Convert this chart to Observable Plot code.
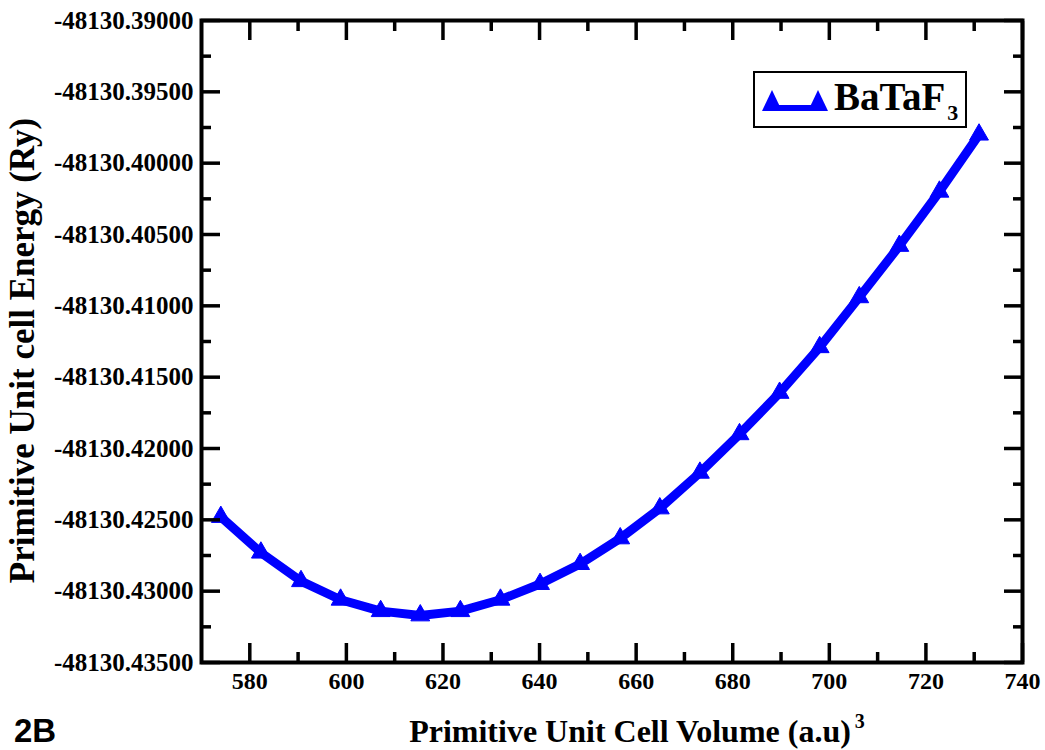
<!DOCTYPE html>
<html>
<head>
<meta charset="utf-8">
<script src="https://cdn.jsdelivr.net/npm/d3@7"></script>
<script src="https://cdn.jsdelivr.net/npm/@observablehq/plot@0.6"></script>
<style>
  html, body { margin: 0; padding: 0; background: #fff; }
  #wrap { position: relative; width: 1045px; height: 750px; overflow: hidden; }
  #wrap svg text { font-family: 'Liberation Serif', 'Times New Roman', serif; font-weight: bold; }
  #legend { position: absolute; left: 753px; top: 71px; width: 210px; height: 53px;
            border: 2px solid #000; background: #fff; box-sizing: content-box; }
  #legend svg { position: absolute; left: 7px; top: 11px; }
  #legend .lbl { position: absolute; left: 79px; top: 3px; font-family: 'Liberation Serif', 'Times New Roman', serif;
                 font-weight: bold; font-size: 39px; line-height: 42px; white-space: nowrap; }
  #legend .lbl sub { font-size: 22px; vertical-align: -10px; margin-left: 2px; }
  #tag { position: absolute; left: 14px; top: 714px; font-family: 'Liberation Sans', Arial, sans-serif;
         font-weight: bold; font-size: 33px; line-height: 33px; }
</style>
</head>
<body>
<div id="wrap"></div>
<script>
// ---- data ----
const volume = [574.0, 582.3, 590.6, 598.8, 607.1, 615.3, 623.6, 631.9, 640.1, 648.4,
                656.7, 664.9, 673.2, 681.4, 689.7, 698.0, 706.2, 714.5, 722.8, 731.0];
const energy = [-48130.4248, -48130.4273, -48130.4293, -48130.4306, -48130.4314,
                -48130.4317, -48130.4314, -48130.4306, -48130.4295, -48130.4281,
                -48130.4263, -48130.4242, -48130.4217, -48130.4190, -48130.4161,
                -48130.4129, -48130.4094, -48130.4058, -48130.4020, -48130.3980];
const seriesName = "BaTaF";
const seriesSub = "3";
const xMajor = [580, 600, 620, 640, 660, 680, 700, 720, 740];
const xMinor = [590, 610, 630, 650, 670, 690, 710, 730];
const yMajor = [-48130.39, -48130.395, -48130.40, -48130.405, -48130.41, -48130.415,
                -48130.42, -48130.425, -48130.43, -48130.435];
const yMinor = [-48130.3925, -48130.3975, -48130.4025, -48130.4075, -48130.4125,
                -48130.4175, -48130.4225, -48130.4275, -48130.4325];
const xLabel = "Primitive Unit Cell Volume (a.u)";
const xLabelSup = "3";
const yLabel = "Primitive Unit cell Energy (Ry)";
const tag = "2B";

const data = volume.map((v, i) => ({v, e: energy[i]}));
const fmtY = d3.formatLocale({decimal: ".", thousands: "", grouping: [3], currency: ["", ""], minus: "-"}).format(".5f");
const blue = "#0000ff";
const serif = "'Liberation Serif', 'Times New Roman', serif";
const tickW = 3.5;
const txt = {fontFamily: serif, fontWeight: "bold"};

const chart = Plot.plot({
  width: 1045,
  height: 750,
  marginLeft: 201,
  marginRight: 23,
  marginTop: 20,
  marginBottom: 88,
  style: {fontFamily: serif, fontWeight: "bold", fontSize: "25px", background: "#fff", color: "#000"},
  x: {domain: [570, 740]},
  y: {domain: [-48130.435, -48130.39]},
  marks: [
    Plot.line(data, {x: "v", y: "e", stroke: blue, strokeWidth: 9}),
    Plot.dot(data, {x: "v", y: "e", symbol: "triangle", fill: blue, stroke: blue, strokeWidth: 1, r: 7}),
    // axes: major + minor, inward ticks, mirrored
    Plot.axisX({anchor: "bottom", ticks: xMajor, tickSize: -19, tickPadding: 28, strokeWidth: tickW,
                tickFormat: d => String(d), fontSize: 24, ...txt, label: null}),
    Plot.axisX({anchor: "bottom", ticks: xMinor, tickSize: -10, strokeWidth: tickW, tickFormat: () => "", label: null}),
    Plot.axisX({anchor: "top", ticks: xMajor, tickSize: -19, strokeWidth: tickW, tickFormat: () => "", label: null}),
    Plot.axisX({anchor: "top", ticks: xMinor, tickSize: -10, strokeWidth: tickW, tickFormat: () => "", label: null}),
    Plot.axisY({anchor: "left", ticks: yMajor, tickSize: -19, tickPadding: 27, strokeWidth: tickW,
                tickFormat: fmtY, fontSize: 25, ...txt, label: null}),
    Plot.axisY({anchor: "left", ticks: yMinor, tickSize: -10, strokeWidth: tickW, tickFormat: () => "", label: null}),
    Plot.axisY({anchor: "right", ticks: yMajor, tickSize: -19, strokeWidth: tickW, tickFormat: () => "", label: null}),
    Plot.axisY({anchor: "right", ticks: yMinor, tickSize: -10, strokeWidth: tickW, tickFormat: () => "", label: null}),
    Plot.frame({stroke: "#000", strokeWidth: 4}),
    // axis titles
    Plot.text([yLabel], {frameAnchor: "left", rotate: -90, dx: -179, dy: 9, fontSize: 35,
                         ...txt, textAnchor: "middle", lineAnchor: "middle"}),
    Plot.text([xLabel], {frameAnchor: "bottom", dx: 25, dy: 79, fontSize: 32,
                         ...txt, textAnchor: "middle", lineAnchor: "bottom"})
  ]
});

// superscript on x-axis title
d3.select(chart).selectAll("text").each(function () {
  const t = d3.select(this);
  if (t.text() === xLabel) {
    t.append("tspan").attr("dx", 4).attr("dy", -14).attr("font-size", 20).text(xLabelSup);
  }
});

const wrap = document.getElementById("wrap");
wrap.appendChild(chart);

// legend
const legend = document.createElement("div");
legend.id = "legend";
legend.innerHTML =
  `<svg width="66" height="30" viewBox="0 0 66 30">
     <line x1="10" y1="24" x2="56" y2="24" stroke="${blue}" stroke-width="6"/>
     <path d="M10,6 L20,27 L0,27 Z" fill="${blue}"/>
     <path d="M56,6 L66,27 L46,27 Z" fill="${blue}"/>
   </svg>
   <div class="lbl">${seriesName}<sub>${seriesSub}</sub></div>`;
wrap.appendChild(legend);

const tg = document.createElement("div");
tg.id = "tag";
tg.textContent = tag;
wrap.appendChild(tg);
</script>
</body>
</html>
